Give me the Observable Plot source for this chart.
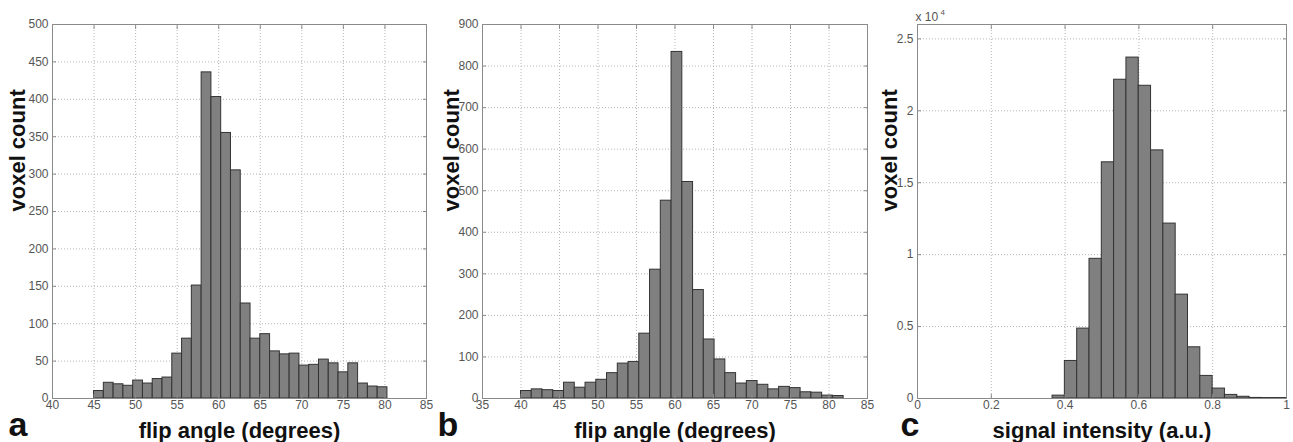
<!DOCTYPE html>
<html>
<head>
<meta charset="utf-8">
<script src="https://cdn.jsdelivr.net/npm/d3@7"></script>
<script src="https://cdn.jsdelivr.net/npm/@observablehq/plot@0.6"></script>
<style>
  html, body { margin: 0; padding: 0; background: #ffffff; }
  #wrap { position: relative; width: 1293px; height: 442px; overflow: hidden; background: #ffffff; }
  .panel { position: absolute; top: 0; }
</style>
</head>
<body>
<div id="wrap"></div>
<script>
// ---- Panel a: flip angle histogram (30 bins, 45 .. 80.3 degrees)
const aRange = [45, 80.3];
const aCounts = [10, 21, 19, 17, 24, 20, 26, 28, 60, 80, 151, 436, 403, 355, 305,
                 127, 80, 86, 63, 59, 60, 44, 45, 52, 47, 35, 47, 20, 16, 15];
const aXTicks = [40, 45, 50, 55, 60, 65, 70, 75, 80, 85];
const aYTicks = [0, 50, 100, 150, 200, 250, 300, 350, 400, 450, 500];

// ---- Panel b: flip angle histogram (30 bins, 40 .. 81.9 degrees)
const bRange = [40, 81.9];
const bCounts = [18, 22, 20, 18, 38, 26, 38, 45, 61, 84, 88, 156, 310, 476, 834,
                 521, 261, 142, 94, 61, 36, 42, 33, 22, 28, 25, 15, 14, 7, 6];
const bXTicks = [35, 40, 45, 50, 55, 60, 65, 70, 75, 80, 85];
const bYTicks = [0, 100, 200, 300, 400, 500, 600, 700, 800, 900];

// ---- Panel c: signal intensity histogram (19 bins, 0.366 .. 1.0)
const cRange = [0.366, 1.0];
const cCounts = [200, 2610, 4860, 9710, 16420, 22160, 23700, 21740, 17250, 12160,
                 7220, 3560, 1570, 690, 250, 120, 40, 30, 30];
const cXTicks = [0, 0.2, 0.4, 0.6, 0.8, 1];
const cYTicks = [0, 5000, 10000, 15000, 20000, 25000];

const labels = ["a", "b", "c"];
const xTitles = ["flip angle (degrees)", "flip angle (degrees)", "signal intensity (a.u.)"];
const yTitle = "voxel count";

function bins(range, counts) {
  const w = (range[1] - range[0]) / counts.length;
  return counts.map((c, i) => ({x1: range[0] + i * w, x2: range[0] + (i + 1) * w, count: c}));
}

const FONT = "'Liberation Sans', Arial, Helvetica, sans-serif";

function panel(cfg) {
  const marks = [
    Plot.gridX(cfg.xTicks, {stroke: "#b5b5b5", strokeOpacity: 1, strokeDasharray: "1,2"}),
    Plot.gridY(cfg.yTicks, {stroke: "#b5b5b5", strokeOpacity: 1, strokeDasharray: "1,2"}),
    Plot.rectY(bins(cfg.range, cfg.counts), {x1: "x1", x2: "x2", y: "count", fill: "#808080", stroke: "#333333", strokeWidth: 1}),
    Plot.frame({stroke: "#8a8a8a", strokeWidth: 1}),
    Plot.axisX(cfg.xTicks, {anchor: "bottom", tickSize: -4, tickPadding: 6, stroke: "#8a8a8a", fill: "#555", fontSize: 12, label: null, tickFormat: cfg.xFormat}),
    Plot.axisX(cfg.xTicks, {anchor: "top", tickSize: -4, stroke: "#8a8a8a", tickFormat: () => "", label: null}),
    Plot.axisY(cfg.yTicks, {anchor: "left", tickSize: -4, tickPadding: 8, stroke: "#8a8a8a", fill: "#555", fontSize: 12, label: null, tickFormat: cfg.yFormat}),
    Plot.axisY(cfg.yTicks, {anchor: "right", tickSize: -4, stroke: "#8a8a8a", tickFormat: () => "", label: null}),
    Plot.text([cfg.xTitle], {text: d => d, frameAnchor: "bottom", dy: 32, lineAnchor: "middle", fontSize: 22, fontWeight: "bold", fill: "#111"}),
    Plot.text([yTitle], {text: d => d, frameAnchor: "left", dx: cfg.yTitleDx, rotate: -90, lineAnchor: "middle", fontSize: 22, fontWeight: "bold", fill: "#111"}),
    Plot.text([cfg.letter], {text: d => d, frameAnchor: "bottom-left", dx: cfg.letterDx, dy: 37, textAnchor: "start", lineAnchor: "bottom", fontSize: 34, fontWeight: "bold", fill: "#111"})
  ];
  if (cfg.extra) marks.push(...cfg.extra);
  const svg = Plot.plot({
    width: cfg.width,
    height: 442,
    marginLeft: cfg.ml,
    marginRight: cfg.mr,
    marginTop: 24,
    marginBottom: 44,
    x: {domain: cfg.xDomain},
    y: {domain: cfg.yDomain},
    style: {background: "transparent", overflow: "visible", fontFamily: FONT, maxWidth: "none"},
    marks
  });
  svg.classList.add("panel");
  svg.style.left = cfg.left + "px";
  svg.style.position = "absolute";
  document.getElementById("wrap").appendChild(svg);
}

panel({
  left: 0, width: 440, ml: 52, mr: 14,
  range: aRange, counts: aCounts, xTicks: aXTicks, yTicks: aYTicks,
  xDomain: [40, 85], yDomain: [0, 500],
  xTitle: xTitles[0], letter: labels[0], yTitleDx: -35, letterDx: -44,
  xFormat: d => String(d), yFormat: d => String(d)
});

panel({
  left: 430, width: 440, ml: 52, mr: 3,
  range: bRange, counts: bCounts, xTicks: bXTicks, yTicks: bYTicks,
  xDomain: [35, 85], yDomain: [0, 900],
  xTitle: xTitles[1], letter: labels[1], yTitleDx: -31, letterDx: -45,
  xFormat: d => String(d), yFormat: d => String(d)
});

panel({
  left: 860, width: 433, ml: 57, mr: 7,
  range: cRange, counts: cCounts, xTicks: cXTicks, yTicks: cYTicks,
  xDomain: [0, 1], yDomain: [0, 26000],
  xTitle: xTitles[2], letter: labels[2], yTitleDx: -28, letterDx: -17,
  xFormat: d => String(d), yFormat: d => String(d / 1e4),
  extra: [
    Plot.text(["x 10"], {text: d => d, frameAnchor: "top-left", dx: -2, dy: -4, textAnchor: "start", lineAnchor: "bottom", fontSize: 12, fill: "#555"}),
    Plot.text(["4"], {text: d => d, frameAnchor: "top-left", dx: 23, dy: -10, textAnchor: "start", lineAnchor: "bottom", fontSize: 8, fill: "#555"})
  ]
});
</script>
</body>
</html>
